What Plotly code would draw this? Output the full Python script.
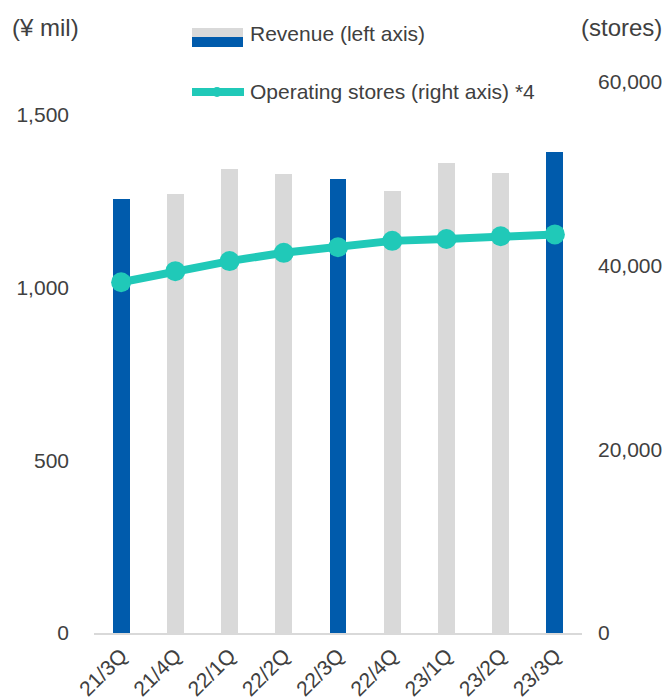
import plotly.graph_objects as go

categories = ["21/3Q", "21/4Q", "22/1Q", "22/2Q", "22/3Q", "22/4Q", "23/1Q", "23/2Q", "23/3Q"]
revenue = [1257, 1271, 1344, 1329, 1315, 1280, 1361, 1332, 1393]
stores = [38200, 39400, 40500, 41400, 42000, 42700, 42900, 43200, 43400]
highlight = [True, False, False, False, True, False, False, False, True]
left_ticks = [0, 500, 1000, 1500]
right_ticks = [0, 20000, 40000, 60000]

BLUE = "#005BAC"
GRAY = "#D9D9D9"
TEAL = "#20C9B8"
DARK = "#404040"
FONT = "Liberation Sans, Arial, sans-serif"

bar_colors = [BLUE if h else GRAY for h in highlight]

W, H = 665, 700
PL, PR, PT, PB = 94, 582, 82, 633

def px(x):
    return (x - PL) / (PR - PL)

def py(y):
    return (PB - y) / (PB - PT)

fig = go.Figure()
fig.add_trace(go.Bar(x=categories, y=revenue, marker=dict(color=bar_colors, line=dict(width=0)),
                     width=0.31, showlegend=False, yaxis="y"))
fig.add_trace(go.Scatter(x=categories, y=stores, mode="lines+markers", yaxis="y2",
                         line=dict(color=TEAL, width=8),
                         marker=dict(color=TEAL, size=20), showlegend=False))

left_top = 1500 * (PB - PT) / 518.0

fig.update_layout(
    width=W, height=H,
    margin=dict(l=PL, r=W - PR, t=PT, b=H - PB, autoexpand=False),
    plot_bgcolor="white", paper_bgcolor="white",
    font=dict(family=FONT, color=DARK, size=21),
    xaxis=dict(type="category", range=[-0.5, 8.5], showgrid=False, showline=True,
               linecolor=GRAY, linewidth=2, tickangle=-45, ticks="",
               tickfont=dict(size=21, color=DARK), automargin=False, zeroline=False),
    yaxis=dict(range=[0, left_top], tickvals=left_ticks, ticktext=[f"{v:,}" for v in left_ticks],
               showgrid=False, zeroline=False, showline=False, ticklabelstandoff=24,
               tickfont=dict(size=21, color=DARK), automargin=False),
    yaxis2=dict(range=[0, 60000], overlaying="y", side="right", tickvals=right_ticks,
                ticktext=[f"{v:,}" for v in right_ticks], showgrid=False, zeroline=False,
                showline=False, ticklabelstandoff=15, tickfont=dict(size=21, color=DARK),
                automargin=False),
    bargap=0.0,
)

annotations = [
    dict(text="(¥ mil)", x=px(10), y=py(28), xanchor="left", yanchor="middle", font_size=24),
    dict(text="(stores)", x=px(664), y=py(28), xanchor="right", yanchor="middle", font_size=24),
    dict(text="Revenue (left axis)", x=px(248), y=py(33), xanchor="left", yanchor="middle", font_size=21),
    dict(text="Operating stores (right axis) *4", x=px(248), y=py(92), xanchor="left", yanchor="middle", font_size=21),
]
for a in annotations:
    size = a.pop("font_size")
    a.update(xref="paper", yref="paper", showarrow=False,
             font=dict(family=FONT, size=size, color=DARK))
fig.update_layout(annotations=annotations)

shapes = [
    dict(type="rect", x0=px(192), x1=px(243), y0=py(37), y1=py(28), fillcolor=GRAY, line=dict(width=0)),
    dict(type="rect", x0=px(192), x1=px(243), y0=py(47), y1=py(37), fillcolor=BLUE, line=dict(width=0)),
    dict(type="line", x0=px(192), x1=px(244), y0=py(92), y1=py(92), line=dict(color=TEAL, width=8)),
    dict(type="circle", x0=px(212), x1=px(222), y0=py(97), y1=py(87), fillcolor=TEAL, line=dict(width=0)),
]
for s in shapes:
    s.update(xref="paper", yref="paper")
fig.update_layout(shapes=shapes)

fig.write_html("out.html", config={"displayModeBar": False},
               post_script="document.body.style.margin='0';document.body.style.overflow='hidden';")
